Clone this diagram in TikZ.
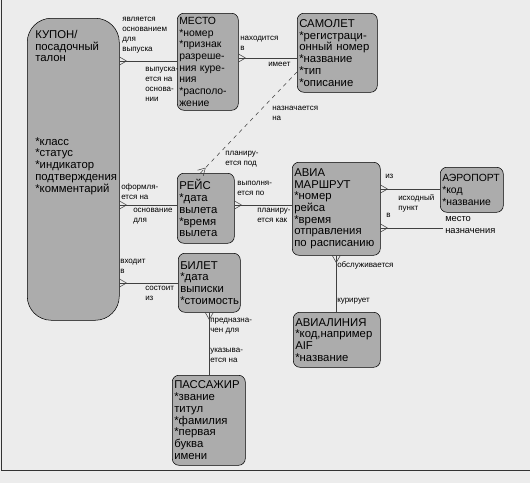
\documentclass[tikz,border=0pt]{standalone}
\usepackage{fontspec}
\setmainfont{Liberation Sans}
\definecolor{boxgray}{RGB}{172,172,172}
\definecolor{paper}{RGB}{236,236,236}
\tikzset{
  entity/.style={draw, fill=boxgray, rounded corners=5pt, anchor=north west,
    align=left, inner xsep=1.5pt, inner ysep=1pt, font=\fontsize{8.5}{8.8}\selectfont},
  attr/.style={anchor=north west, align=left, inner sep=0pt, font=\fontsize{8.5}{8.8}\selectfont},
  rel/.style={anchor=north west, align=left, inner sep=0pt, font=\fontsize{6}{7.5}\selectfont},
  link/.style={draw=black!75, line width=0.4pt},
  crowfoot/.pic={\draw[black!75] (7,0) -- (0,4) (7,0) -- (0,-4);}
}
\begin{document}
\begin{tikzpicture}[x=0.75pt,y=-0.75pt]
\useasboundingbox (0,0) rectangle (530,483);
\fill[paper] (0,0) rectangle (530,483);
\draw[black!80] (1,0) -- (1,470) -- (530,470);

\node[draw, fill=boxgray, rounded corners=18pt, anchor=north west,
  minimum width=69pt, minimum height=226.5pt] (coupon) at (27,18) {};
\node[attr] (coupontitle) at (35,30) {КУПОН/\\посадочный\\талон};
\node[attr] (couponattr) at (35,137) {*класс\\{}*статус\\{}*индикатор\\подтверждения\\{}*комментарий};

\node[entity, text width=42.75pt, minimum height=72.75pt, font=\fontsize{7.8}{8.8}\selectfont] (mesto) at (177,13)
  {МЕСТО\\{}*номер\\{}*признак\\разреше-\\ния куре-\\ния\\{}*располо-\\жение};
\node[entity, text width=57pt, minimum height=59.25pt] (plane) at (297,13)
  {САМОЛЕТ\\{}*регистраци-\\онный номер\\{}*название\\{}*тип\\{}*описание};
\node[entity, text width=39.75pt, minimum height=52.5pt] (flight) at (177,173)
  {РЕЙС\\{}*дата\\вылета\\{}*время\\вылета};
\node[entity, text width=63pt, minimum height=69.75pt] (route) at (292,162)
  {АВИА\\МАРШРУТ\\{}*номер\\рейса\\{}*время\\отправления\\по расписанию};
\node[entity, text width=44.25pt, minimum height=33.75pt, font=\fontsize{7.8}{8.8}\selectfont] (airport) at (440,167)
  {АЭРОПОРТ\\{}*код\\{}*название};
\node[entity, text width=43.5pt, minimum height=44.25pt] (ticket) at (178,253)
  {БИЛЕТ\\{}*дата\\выписки\\{}*стоимость};
\node[entity, text width=62.25pt, minimum height=41.25pt] (airline) at (293,312)
  {АВИАЛИНИЯ\\{}*код,например\\AIF\\{}*название};
\node[entity, text width=51.75pt, minimum height=67.5pt] (passenger) at (172,375)
  {ПАССАЖИР\\{}*звание\\титул\\{}*фамилия\\{}*первая\\буква\\имени};

% connectors
\draw[link] (coupon.east |- 0,61) -- (mesto.west |- 0,61);
\pic at (coupon.east |- 0,61) {crowfoot};
\draw[link] (mesto.east |- 0,58) -- (plane.west |- 0,58);
\pic at (mesto.east |- 0,58) {crowfoot};
\draw[link, dashed] ([xshift=-4pt]flight.north) -- (plane.west |- 0,72);
\pic[rotate=46] at ([xshift=-4pt]flight.north) {crowfoot};
\draw[link] (coupon.east |- 0,205) -- (flight.west |- 0,205);
\pic at (coupon.east |- 0,205) {crowfoot};
\draw[link] (flight.east |- 0,205) -- (route.west |- 0,205);
\pic at (flight.east |- 0,205) {crowfoot};
\coordinate (dest) at (443,228);
\draw[link] (route.east |- 0,189) -- (airport.west |- 0,189);
\pic at (route.east |- 0,189) {crowfoot};
\draw[link] (route.east |- 0,228) -- (dest);
\pic at (route.east |- 0,228) {crowfoot};
\draw[link] (route.south) -- (route.south |- airline.north);
\pic[rotate=-90] at (route.south) {crowfoot};
\draw[link] (coupon.east |- 0,283) -- (ticket.west |- 0,283);
\pic at (coupon.east |- 0,283) {crowfoot};
\draw[link] (ticket.south) -- (ticket.south |- passenger.north);
\pic[rotate=-90] at (ticket.south) {crowfoot};

% labels
\node[rel] (l1) at (122,17) {является\\основанием\\для\\выпуска};
\node[rel] (l2) at (145,67) {выпуска-\\ется на\\основа-\\нии};
\node[rel] (l3) at (240,36) {находится\\в};
\node[rel] (l4) at (268,62) {имеет};
\node[rel] (l5) at (272,106) {назначается\\на};
\node[rel] (l6) at (225,151) {планиру-\\ется под};
\node[rel] (l7) at (121,183) {оформля-\\ется на};
\node[rel] (l8) at (133,208) {основание\\для};
\node[rel] (l9) at (237,181) {выполня-\\ется по};
\node[rel] (l10) at (257,208) {планиру-\\ется как};
\node[rel] (l11) at (385,174) {из};
\node[rel] (l12) at (398,194) {исходный\\пункт};
\node[rel] (l13) at (386,213) {в};
\node[rel, font=\fontsize{7}{9}\selectfont] (l14) at (445,216) {место\\назначения};
\node[rel] (l15) at (120,259) {входит\\в};
\node[rel] (l16) at (145,286) {состоит\\из};
\node[rel] (l17) at (210,318) {предназна-\\чен для};
\node[rel] (l18) at (210,348) {указыва-\\ется на};
\node[rel] (l19) at (337,261) {обслуживается};
\node[rel] (l20) at (337,298) {курирует};
\end{tikzpicture}
\end{document}
